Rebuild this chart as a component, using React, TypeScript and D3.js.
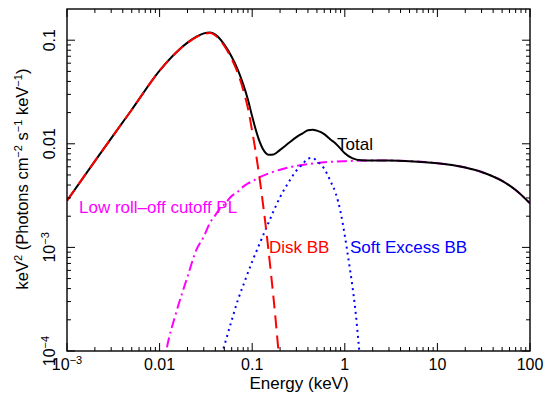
import React from "react";
import * as d3 from "d3";

// Energies (keV) and E^2 F(E) values (keV^2 photons cm^-2 s^-1 keV^-1)
const diskE = [0.001, 0.002, 0.005, 0.01, 0.015, 0.02, 0.025, 0.03, 0.035, 0.04, 0.05, 0.06, 0.07, 0.08, 0.09, 0.1, 0.11, 0.12, 0.13, 0.14, 0.15, 0.16, 0.17, 0.18, 0.19, 0.2];
const diskFlux = [0.00282, 0.00681, 0.0213, 0.0508, 0.0755, 0.0942, 0.107, 0.115, 0.117, 0.111, 0.0879, 0.066, 0.0479, 0.0331, 0.0219, 0.0132, 0.00794, 0.00469, 0.00274, 0.0016, 0.000933, 0.000548, 0.000324, 0.000191, 0.000112, 0.000068];

const plE = [0.011, 0.012, 0.015, 0.02, 0.025, 0.03, 0.035, 0.04, 0.045, 0.05, 0.06, 0.07, 0.08, 0.09, 0.1, 0.12, 0.15, 0.2, 0.3, 0.5, 1, 2, 3, 5, 10, 20, 30, 50, 70, 100];
const plFlux = [0.00007, 0.000108, 0.00023, 0.00052, 0.00095, 0.00127, 0.00173, 0.00205, 0.00238, 0.0026, 0.00314, 0.00345, 0.00386, 0.00414, 0.00435, 0.00476, 0.00517, 0.00562, 0.00611, 0.00653, 0.0068, 0.0069, 0.00689, 0.0068, 0.0065, 0.00591, 0.00535, 0.00438, 0.00358, 0.00266];

const softE = [0.045, 0.05, 0.06, 0.07, 0.08, 0.1, 0.12, 0.15, 0.2, 0.25, 0.3, 0.35, 0.4, 0.45, 0.5, 0.6, 0.7, 0.8, 0.9, 1.0, 1.1, 1.2, 1.3, 1.4, 1.5];
const softFlux = [0.000082, 0.000113, 0.000197, 0.00031, 0.00043, 0.00073, 0.00108, 0.00173, 0.00305, 0.00432, 0.0055, 0.00635, 0.0072, 0.0073, 0.0068, 0.00575, 0.00437, 0.0033, 0.0022, 0.0013, 0.00075, 0.00044, 0.00025, 0.000126, 0.000063];

const totalE = [0.001, 0.002, 0.005, 0.01, 0.015, 0.02, 0.025, 0.03, 0.035, 0.04, 0.05, 0.06, 0.07, 0.08, 0.09, 0.1, 0.11, 0.12, 0.13, 0.14, 0.15, 0.17, 0.2, 0.25, 0.3, 0.35, 0.4, 0.45, 0.5, 0.6, 0.7, 0.8, 0.9, 1.0, 1.2, 1.5, 2, 3, 5, 10, 20, 30, 50, 70, 100];
const totalFlux = [0.00282, 0.00681, 0.0213, 0.0509, 0.0758, 0.0947, 0.108, 0.1163, 0.1187, 0.113, 0.0906, 0.0693, 0.0517, 0.0374, 0.0266, 0.0183, 0.0134, 0.01053, 0.00895, 0.00815, 0.00783, 0.0079, 0.00874, 0.01023, 0.01161, 0.0126, 0.0135, 0.0137, 0.0134, 0.0124, 0.011, 0.01003, 0.00897, 0.0081, 0.00728, 0.00694, 0.0069, 0.00689, 0.0068, 0.0065, 0.00591, 0.00535, 0.00438, 0.00358, 0.00266];

const xMajor = [0.001, 0.01, 0.1, 1, 10, 100];
const xTickBase = ["10", "0.01", "0.1", "1", "10", "100"];
const xTickExp = ["\u22123", "", "", "", "", ""];
const yMajor = [0.0001, 0.001, 0.01, 0.1];
const yTickBase = ["10", "10", "0.01", "0.1"];
const yTickExp = ["\u22124", "\u22123", "", ""];

const W = 547, H = 394;
const L = 67, R = 530, T = 9, B = 351;
const FONT = "'Liberation Sans', Arial, Helvetica, sans-serif";

export default function App() {
  const x = d3.scaleLog().domain([1e-3, 100]).range([L, R]);
  const y = d3.scaleLog().domain([1e-4, 0.2]).range([B, T]);
  const mk = (es: number[], vs: number[]) =>
    d3.line<number>().x((_, i) => x(es[i])).y((v) => y(v)).curve(d3.curveMonotoneX)(vs) || "";

  const xMinor: number[] = [];
  for (let n = -3; n <= 1; n++) for (let k = 2; k <= 9; k++) xMinor.push(k * Math.pow(10, n));
  const yMinor: number[] = [];
  for (let n = -4; n <= -1; n++) for (let k = 2; k <= 9; k++) { const v = k * Math.pow(10, n); if (v < 0.199) yMinor.push(v); }

  const maj = 8, min = 4;
  const ticks: React.ReactNode[] = [];
  xMajor.forEach((v, i) => {
    ticks.push(<line key={"xb" + i} x1={x(v)} x2={x(v)} y1={B} y2={B - maj} />);
    ticks.push(<line key={"xt" + i} x1={x(v)} x2={x(v)} y1={T} y2={T + maj} />);
  });
  xMinor.forEach((v, i) => {
    ticks.push(<line key={"xbm" + i} x1={x(v)} x2={x(v)} y1={B} y2={B - min} />);
    ticks.push(<line key={"xtm" + i} x1={x(v)} x2={x(v)} y1={T} y2={T + min} />);
  });
  yMajor.forEach((v, i) => {
    ticks.push(<line key={"yl" + i} y1={y(v)} y2={y(v)} x1={L} x2={L + maj} />);
    ticks.push(<line key={"yr" + i} y1={y(v)} y2={y(v)} x1={R} x2={R - maj} />);
  });
  yMinor.forEach((v, i) => {
    ticks.push(<line key={"ylm" + i} y1={y(v)} y2={y(v)} x1={L} x2={L + min} />);
    ticks.push(<line key={"yrm" + i} y1={y(v)} y2={y(v)} x1={R} x2={R - min} />);
  });

  return (
    <svg width={W} height={H} style={{ position: "absolute", left: 0, top: 0, background: "#fff" }} fontFamily={FONT}>
      <rect x={0} y={0} width={W} height={H} fill="#fff" />
      <defs>
        <clipPath id="plotclip">
          <rect x={L} y={T} width={R - L} height={B - T} />
        </clipPath>
      </defs>
      <g clipPath="url(#plotclip)" fill="none" strokeWidth={2}>
        <path d={mk(plE, plFlux)} stroke="#ff00ff" strokeDasharray="10,4,2,4" />
        <path d={mk(softE, softFlux)} stroke="#0000ff" strokeDasharray="2,4" />
        <path d={mk(totalE, totalFlux)} stroke="#000" />
        <path d={mk(diskE, diskFlux)} stroke="#ff0000" strokeDasharray="13,7" />
      </g>
      <g stroke="#000" strokeWidth={1}>{ticks}</g>
      <rect x={L} y={T} width={R - L} height={B - T} fill="none" stroke="#000" strokeWidth={1.4} />

      <g fontSize={16} fill="#000" textAnchor="middle">
        {xMajor.map((v, i) => (
          <text key={"xl" + i} x={x(v)} y={370}>
            {xTickBase[i]}
            {xTickExp[i] ? <tspan fontSize={11} dy={-6}>{xTickExp[i]}</tspan> : null}
          </text>
        ))}
        {yMajor.map((v, i) => (
          <text key={"yl" + i} transform={`translate(55,${y(v)}) rotate(-90)`}>
            {yTickBase[i]}
            {yTickExp[i] ? <tspan fontSize={11} dy={-6}>{yTickExp[i]}</tspan> : null}
          </text>
        ))}
        <text x={299} y={389} fontSize={17}>Energy (keV)</text>
        <text transform="translate(28,179) rotate(-90)" fontSize={16.5}>
          keV<tspan fontSize={11} dy={-6}>2</tspan>
          <tspan dy={6}> (Photons cm</tspan>
          <tspan fontSize={11} dy={-6}>{"\u22122"}</tspan>
          <tspan dy={6}> s</tspan>
          <tspan fontSize={11} dy={-6}>{"\u22121"}</tspan>
          <tspan dy={6}> keV</tspan>
          <tspan fontSize={11} dy={-6}>{"\u22121"}</tspan>
          <tspan dy={6}>)</tspan>
        </text>
      </g>

      <g fontSize={17}>
        <text x={337} y={150} fill="#000">Total</text>
        <text x={79} y={213} fill="#ff00ff">Low roll{"\u2013"}off cutoff PL</text>
        <text x={269} y={253} fill="#ff0000">Disk BB</text>
        <text x={350} y={253} fill="#0000ff">Soft Excess BB</text>
      </g>
    </svg>
  );
}
